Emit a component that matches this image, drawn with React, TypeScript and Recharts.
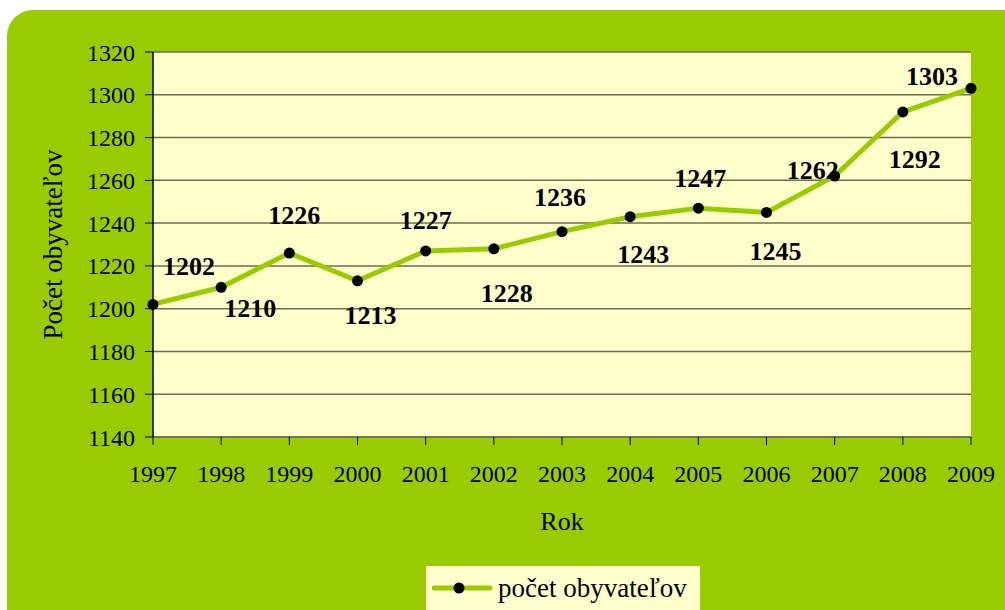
import React from 'react';
import { LineChart, Line, XAxis, YAxis, CartesianGrid, Legend, LabelList } from 'recharts';

const years = ['1997', '1998', '1999', '2000', '2001', '2002', '2003', '2004', '2005', '2006', '2007', '2008', '2009'];
const population = [1202, 1210, 1226, 1213, 1227, 1228, 1236, 1243, 1247, 1245, 1262, 1292, 1303];
const yTicks = [1140, 1160, 1180, 1200, 1220, 1240, 1260, 1280, 1300, 1320];

// where each value label sits relative to its point (styling only)
const labelShift: [number, number][] = [
  [36, -38], [29, 21], [5, -38], [13, 35], [0, -30], [13, 45], [-2, -34],
  [13, 38], [2, -30], [9, 39], [-22, -6], [12, 48], [-39, -12],
];

const data = years.map((year, i) => ({ year, value: population[i] }));

const GREEN = '#99cc00';
const FONT = '"Liberation Serif", "DejaVu Serif", serif';

const ValueLabel = (props: any) => {
  const { x, y, value, index } = props;
  const [dx, dy] = labelShift[index] || [0, -20];
  return (
    <text x={x + dx} y={y + dy} textAnchor="middle" dominantBaseline="central"
      fontFamily={FONT} fontWeight="bold" fontSize={26} fill="#000">
      {value}
    </text>
  );
};

const LegendBox = () => (
  <div style={{ background: '#ffffcc', width: 274, height: 44, display: 'flex', alignItems: 'center', fontFamily: FONT, fontSize: 27, color: '#000', whiteSpace: 'nowrap' }}>
    <svg width={66} height={20} style={{ marginLeft: 6, flexShrink: 0 }}>
      <line x1={2} y1={10} x2={58} y2={10} stroke={GREEN} strokeWidth={5} strokeLinecap="round" />
      <circle cx={27} cy={10} r={5.5} fill="#000" />
    </svg>
    <span>počet obyvateľov</span>
  </div>
);

const App = () => {
  return (
    <div style={{ position: 'absolute', left: 0, top: 0, width: 1005, height: 610, background: '#fff', overflow: 'hidden' }}>
      <div style={{ position: 'absolute', left: 7, top: 10, width: 1030, height: 640, background: GREEN, borderTopLeftRadius: 26, borderTopRightRadius: 26 }} />
      <div style={{ position: 'absolute', left: 0, top: 0 }}>
        <LineChart width={1005} height={610} data={data} margin={{ top: 52, right: 34, left: 0, bottom: 0 }}>
          <CartesianGrid vertical={false} stroke="#6e6e50" strokeWidth={1.5} fill="#ffffcc" fillOpacity={1} />
          <XAxis dataKey="year" scale="point" padding={{ left: 0, right: 0 }} height={129}
            tickSize={8} tickMargin={20} axisLine={{ stroke: '#6e6e50', strokeWidth: 1.5 }} tickLine={{ stroke: '#000' }}
            tick={{ fill: '#000', fontSize: 24, fontFamily: FONT }}
            label={{ value: 'Rok', position: 'insideTop', dy: 70, fill: '#000', fontSize: 26, fontFamily: FONT }} />
          <YAxis domain={[1140, 1320]} ticks={yTicks} width={153} interval={0}
            tickSize={8} tickMargin={10} axisLine={{ stroke: '#000', strokeWidth: 1.5 }} tickLine={{ stroke: '#000' }}
            tick={{ fill: '#000', fontSize: 24, fontFamily: FONT }}
            label={{ value: 'Počet obyvateľov', angle: -90, position: 'insideLeft', dx: 47, fill: '#000', fontSize: 27, fontFamily: FONT, style: { textAnchor: 'middle' } }} />
          <Legend verticalAlign="bottom" content={<LegendBox />}
            wrapperStyle={{ position: 'absolute', left: 426, top: 566, bottom: 'auto', width: 274, height: 44 }} />
          <Line type="linear" dataKey="value" name="počet obyvateľov" stroke={GREEN} strokeWidth={5}
            dot={{ r: 5.5, fill: '#000', stroke: '#000', strokeWidth: 0 }} activeDot={false} isAnimationActive={false}>
            <LabelList dataKey="value" content={<ValueLabel />} />
          </Line>
        </LineChart>
      </div>
    </div>
  );
};

export default App;
